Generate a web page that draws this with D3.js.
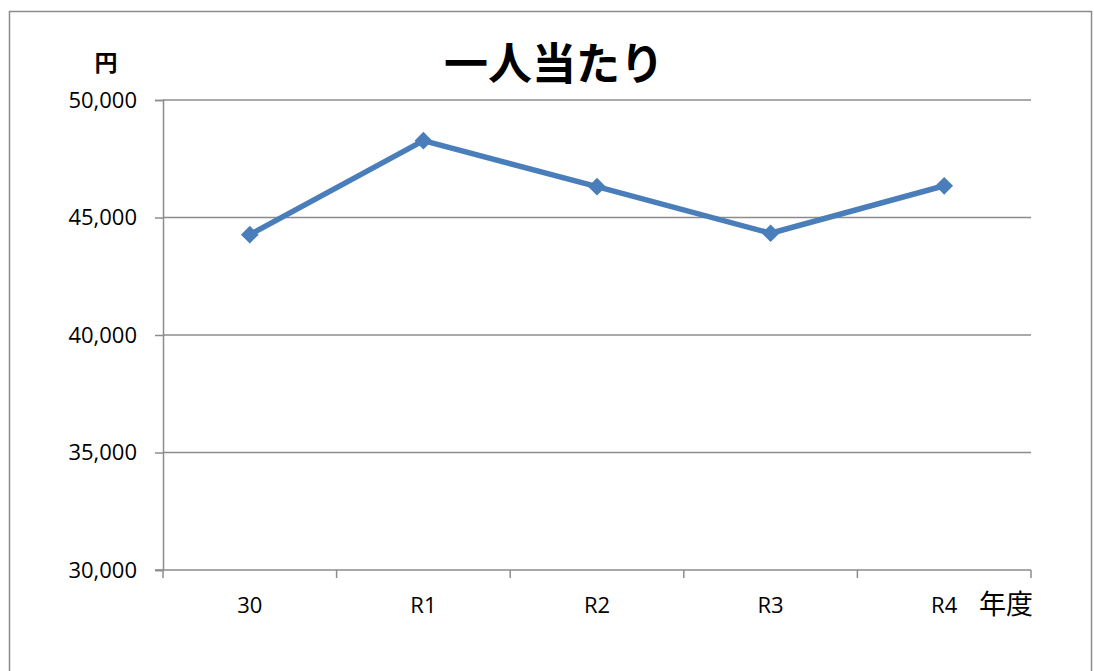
<!DOCTYPE html>
<html>
<head>
<meta charset="utf-8">
<script src="https://cdn.jsdelivr.net/npm/d3@7"></script>
<style>
  body { margin: 0; background: #fff; }
  svg { display: block; }
</style>
</head>
<body>
<div id="chart"></div>
<script>
// data
var years = ["30", "R1", "R2", "R3", "R4"];
var perPerson = [44270, 48270, 46310, 44330, 46350];
var yTicks = [30000, 35000, 40000, 45000, 50000];

var width = 1094, height = 671;
var margin = {left: 163, right: 63, top: 100, bottom: 101};
var plotW = width - margin.left - margin.right,
	plotH = height - margin.top - margin.bottom;

var jp = "'Noto Sans CJK JP', sans-serif";
var num = "'Open Sans', 'Noto Sans', sans-serif";

var svg = d3.select("#chart").append("svg")
	.attr("width", width)
	.attr("height", height);

// outer chart frame
svg.append("rect")
	.attr("x", 9.5).attr("y", 11.5)
	.attr("width", 1082).attr("height", 680)
	.attr("fill", "none")
	.attr("stroke", "#8c8c8c")
	.attr("stroke-width", 1.5);

var x = d3.scaleBand().domain(years).range([0, plotW]);
var y = d3.scaleLinear().domain([30000, 50000]).range([plotH, 0]);

var g = svg.append("g")
	.attr("transform", "translate(" + margin.left + "," + margin.top + ")");

// gridlines
g.selectAll("line.grid")
	.data(yTicks.slice(1))
	.enter().append("line")
		.attr("class", "grid")
		.attr("x1", 0).attr("x2", plotW)
		.attr("y1", function(d) { return y(d); })
		.attr("y2", function(d) { return y(d); })
		.attr("stroke", "#8c8c8c")
		.attr("stroke-width", 1.5);

// y axis
var yAxis = g.append("g")
	.call(d3.axisLeft(y).tickValues(yTicks).tickSize(8).tickPadding(18)
		.tickFormat(d3.format(",")));
yAxis.attr("font-size", null).attr("font-family", null);
yAxis.select(".domain").attr("stroke", "#8c8c8c").attr("stroke-width", 1.5);
yAxis.selectAll(".tick line").attr("stroke", "#8c8c8c").attr("stroke-width", 1.5);
yAxis.selectAll("text")
	.style("font-family", num).style("font-size", "22px").attr("fill", "#000");

// x axis: ticks at category boundaries
var xAxisG = g.append("g").attr("transform", "translate(0," + plotH + ")");
xAxisG.append("line")
	.attr("x1", -8).attr("x2", plotW)
	.attr("stroke", "#8c8c8c").attr("stroke-width", 1.5);
var bounds = years.map(function(d) { return x(d); }).concat([plotW]);
xAxisG.selectAll("line.tk")
	.data(bounds)
	.enter().append("line")
		.attr("class", "tk")
		.attr("x1", function(d) { return d; })
		.attr("x2", function(d) { return d; })
		.attr("y1", 0).attr("y2", 8)
		.attr("stroke", "#8c8c8c").attr("stroke-width", 1.5);
xAxisG.selectAll("text")
	.data(years)
	.enter().append("text")
		.attr("x", function(d) { return x(d) + x.bandwidth() / 2; })
		.attr("y", 43)
		.attr("text-anchor", "middle")
		.style("font-family", num).style("font-size", "22px")
		.text(function(d) { return d; });

// line
var line = d3.line()
	.x(function(d, i) { return x(years[i]) + x.bandwidth() / 2; })
	.y(function(d) { return y(d); });

g.append("path")
	.datum(perPerson)
	.attr("d", line)
	.attr("fill", "none")
	.attr("stroke", "#4a7ebb")
	.attr("stroke-width", 5.5)
	.attr("stroke-linejoin", "round");

g.selectAll("path.marker")
	.data(perPerson)
	.enter().append("path")
		.attr("class", "marker")
		.attr("d", d3.symbol().type(d3.symbolDiamond2).size(200))
		.attr("transform", function(d, i) {
			return "translate(" + (x(years[i]) + x.bandwidth() / 2) + "," + y(d) + ")";
		})
		.attr("fill", "#4a7ebb");

// title and unit labels
svg.append("text")
	.attr("x", 554).attr("y", 80)
	.attr("text-anchor", "middle")
	.style("font-family", jp).attr("font-weight", "bold").style("font-size", "44px")
	.text("一人当たり");

svg.append("text")
	.attr("x", 106).attr("y", 71)
	.attr("text-anchor", "middle")
	.style("font-family", jp).attr("font-weight", "bold").style("font-size", "23px")
	.text("円");

svg.append("text")
	.attr("x", 1033).attr("y", 614)
	.attr("text-anchor", "end")
	.style("font-family", jp).style("font-size", "27px")
	.text("年度");
</script>
</body>
</html>
